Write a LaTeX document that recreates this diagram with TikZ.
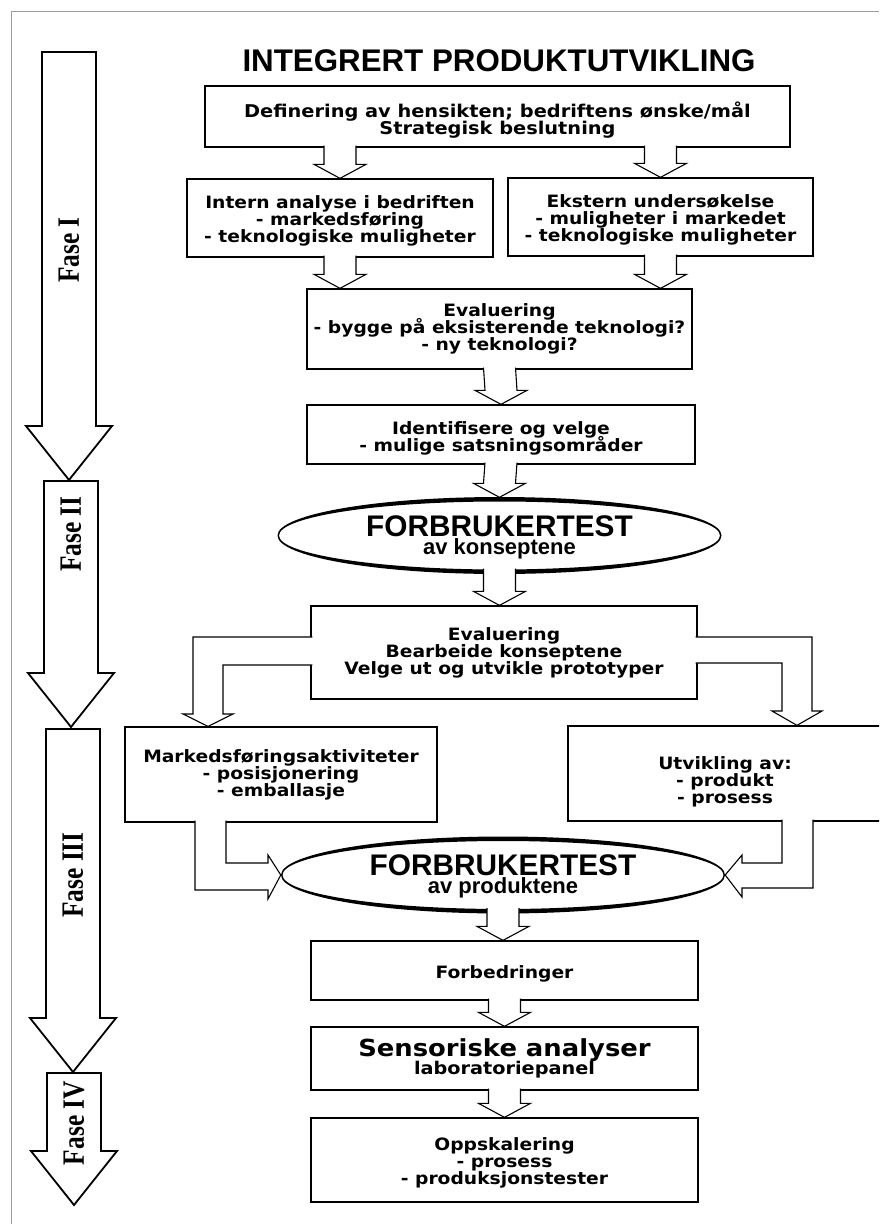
\documentclass[tikz,border=0pt]{standalone}
\usepackage{fontspec}
\setmainfont{DejaVu Sans}
\newfontfamily\boxfamily[FakeStretch=1.1]{DejaVu Sans}
\newfontfamily\arialfont{Liberation Sans}
\newfontfamily\timesfont[FakeStretch=0.82]{Liberation Serif}
\usetikzlibrary{calc,shapes.geometric}
\newcommand{\boxfont}[1]{\boxfamily\bfseries\fontsize{#1pt}{17pt}\selectfont\lineskiplimit=-50pt}
\newcommand{\lift}[1]{\rule{0pt}{#1pt}}
\tikzset{
  frame/.style={draw=gray!75, line width=0.9pt},
  box/.style={draw, line width=1.3pt, inner sep=0pt, align=center, font=\boxfont{17}},
  oval/.style={ellipse, inner sep=0pt, minimum width=444pt, minimum height=76pt, align=center,
    font={\arialfont\bfseries\fontsize{22pt}{18pt}\selectfont\lineskiplimit=-50pt}},
  hollow/.style={draw, fill=white, line width=1.1pt},
  phase/.style={draw, fill=white, line width=1.8pt},
  phaselabel/.style={rotate=90, inner sep=0pt, font={\timesfont\bfseries\fontsize{31pt}{31pt}\selectfont}},
}
\begin{document}
\begin{tikzpicture}[x=1pt, y=-1pt, line join=miter]
	\def\flowarrow#1#2#3{% #1 inset, #2 start, #3 tip
		\draw[hollow] ($(#2)+(-16,-#1)$) -- ($(#3)+(-16,-14)$) -- ($(#3)+(-26,-14)$) -- (#3)
		-- ($(#3)+(26,-14)$) -- ($(#3)+(16,-14)$) -- ($(#2)+(16,-#1)$);}
	\def\phasearrow#1#2#3{% #1 centre x, #2 top, #3 tip
		\draw[phase] (#1-27,#2) -- (#1-27,#3-54) -- (#1-43,#3-54) -- (#1,#3)
		-- (#1+43,#3-54) -- (#1+27,#3-54) -- (#1+27,#2) -- cycle;}
	\clip (0,0) rectangle (879,1224);
	\draw[frame] (11.5,1224) -- (11.5,11) -- (879,11);
	% Faser
	\phasearrow{69}{52}{480}
	\phasearrow{71}{481}{727}
	\phasearrow{73}{729}{1072}
	\phasearrow{74}{1073}{1205}
	\node[phaselabel] (fase1) at (69,250) {Fase I};
	\node[phaselabel] (fase2) at (71,534) {Fase II};
	\node[phaselabel] (fase3) at (73,875) {Fase III};
	\node[phaselabel] (fase4) at (74,1123) {Fase IV};
	% Boksene
	\node[anchor=base, font={\arialfont\bfseries\fontsize{31.3pt}{31pt}\selectfont}] (title) at (499,71) {INTEGRERT PRODUKTUTVIKLING};
	\node[box, minimum width=585pt, minimum height=61pt, font=\boxfont{17.6}] (def) at (497.5,116.5)
		{\lift{22}Definering av hensikten; bedriftens ønske/mål\\Strategisk beslutning};
	\node[box, minimum width=306pt, minimum height=78pt] (intern) at (340,218)
		{\lift{19}Intern analyse i bedriften\\- markedsføring\\- teknologiske muligheter};
	\node[box, minimum width=305pt, minimum height=78pt] (ekstern) at (660.5,217)
		{\lift{19}Ekstern undersøkelse\\- muligheter i markedet\\- teknologiske muligheter};
	\node[box, minimum width=385pt, minimum height=80pt] (eval1) at (499.5,329)
		{Evaluering\\- bygge på eksisterende teknologi?\\- ny teknologi?};
	\node[box, minimum width=388pt, minimum height=59pt] (ident) at (501,434.5)
		{\lift{21}Identifisere og velge\\- mulige satsningsområder};
	\node[oval] (ell1) at (499.5,535.5) {\lift{24}{\fontsize{29.8pt}{28pt}\selectfont FORBRUKERTEST}\\av konseptene};
	\node[box, minimum width=386pt, minimum height=93pt] (eval2) at (504,652.5)
		{Evaluering\\Bearbeide konseptene\\Velge ut og utvikle prototyper};
	\node[box, minimum width=312pt, minimum height=95pt] (markeds) at (281,774.5)
		{Markedsføringsaktiviteter\\- posisjonering\\- emballasje};
	\node[box, minimum width=314pt, minimum height=95pt] (utvikling) at (725,773.5)
		{\lift{29}Utvikling av:\\- produkt\\- prosess};
	\node[oval] (ell2) at (503,875) {\lift{24}{\fontsize{29.8pt}{28pt}\selectfont FORBRUKERTEST}\\av produktene};
	\node[box, minimum width=387pt, minimum height=59pt] (forb) at (504.5,970.5) {\lift{19}Forbedringer};
	\node[box, minimum width=387pt, minimum height=63pt] (sens) at (504.5,1058.5)
		{{\fontsize{23.5pt}{25pt}\selectfont Sensoriske analyser}\\[1pt]{\fontsize{17.5pt}{19pt}\selectfont laboratoriepanel}};
	\node[box, minimum width=387pt, minimum height=84pt] (opps) at (504.5,1160)
		{\lift{19}Oppskalering\\- prosess\\- produksjonstester};
	\foreach \e in {ell1,ell2}
		\fill[even odd rule] (\e.center) ellipse [x radius=222pt, y radius=38.5pt]
			(\e.center) ellipse [x radius=220.5pt, y radius=34pt];
	% Piler
	\flowarrow{2}{def.south -| intern}{intern.north}
	\flowarrow{2}{def.south -| ekstern}{ekstern.north}
	\flowarrow{2}{intern.south}{eval1.north -| intern}
	\flowarrow{2}{ekstern.south}{eval1.north -| ekstern}
	\flowarrow{2}{eval1.south}{ident.north}
	\flowarrow{2}{ident.south}{ell1.north}
	\flowarrow{5}{ell1.south}{eval2.north -| ell1}
	\draw[hollow] ($(eval2.west |- 0,637)+(2,0)$) -| (193,714) -- ++(-10,0) -- (markeds.north -| 208,0)
		-- (233,714) -- ++(-10,0) |- ($(eval2.west |- 0,665)+(2,0)$);
	\draw[hollow] ($(eval2.east |- 0,637)+(-2,0)$) -| (812,711) -- ++(10,0) -- (utvikling.north -| 797,0)
		-- (772,711) -- ++(10,0) |- ($(eval2.east |- 0,663)+(-2,0)$);
	\draw[hollow] ($(markeds.south -| 195,0)+(0,-2)$) |- (268,890) -- ++(0,9) -- (ell2.west)
		-- (268,855) -- ++(0,8) -| ($(markeds.south -| 226,0)+(0,-2)$);
	\draw[hollow] ($(utvikling.south -| 813,0)+(0,-2)$) |- (742,888) -- ++(0,9) -- (ell2.east)
		-- (742,855) -- ++(0,8) -| ($(utvikling.south -| 782,0)+(0,-2)$);
	\flowarrow{5}{ell2.south}{forb.north -| ell2}
	\flowarrow{2}{forb.south}{sens.north}
	\flowarrow{2}{sens.south}{opps.north}
\end{tikzpicture}
\end{document}
